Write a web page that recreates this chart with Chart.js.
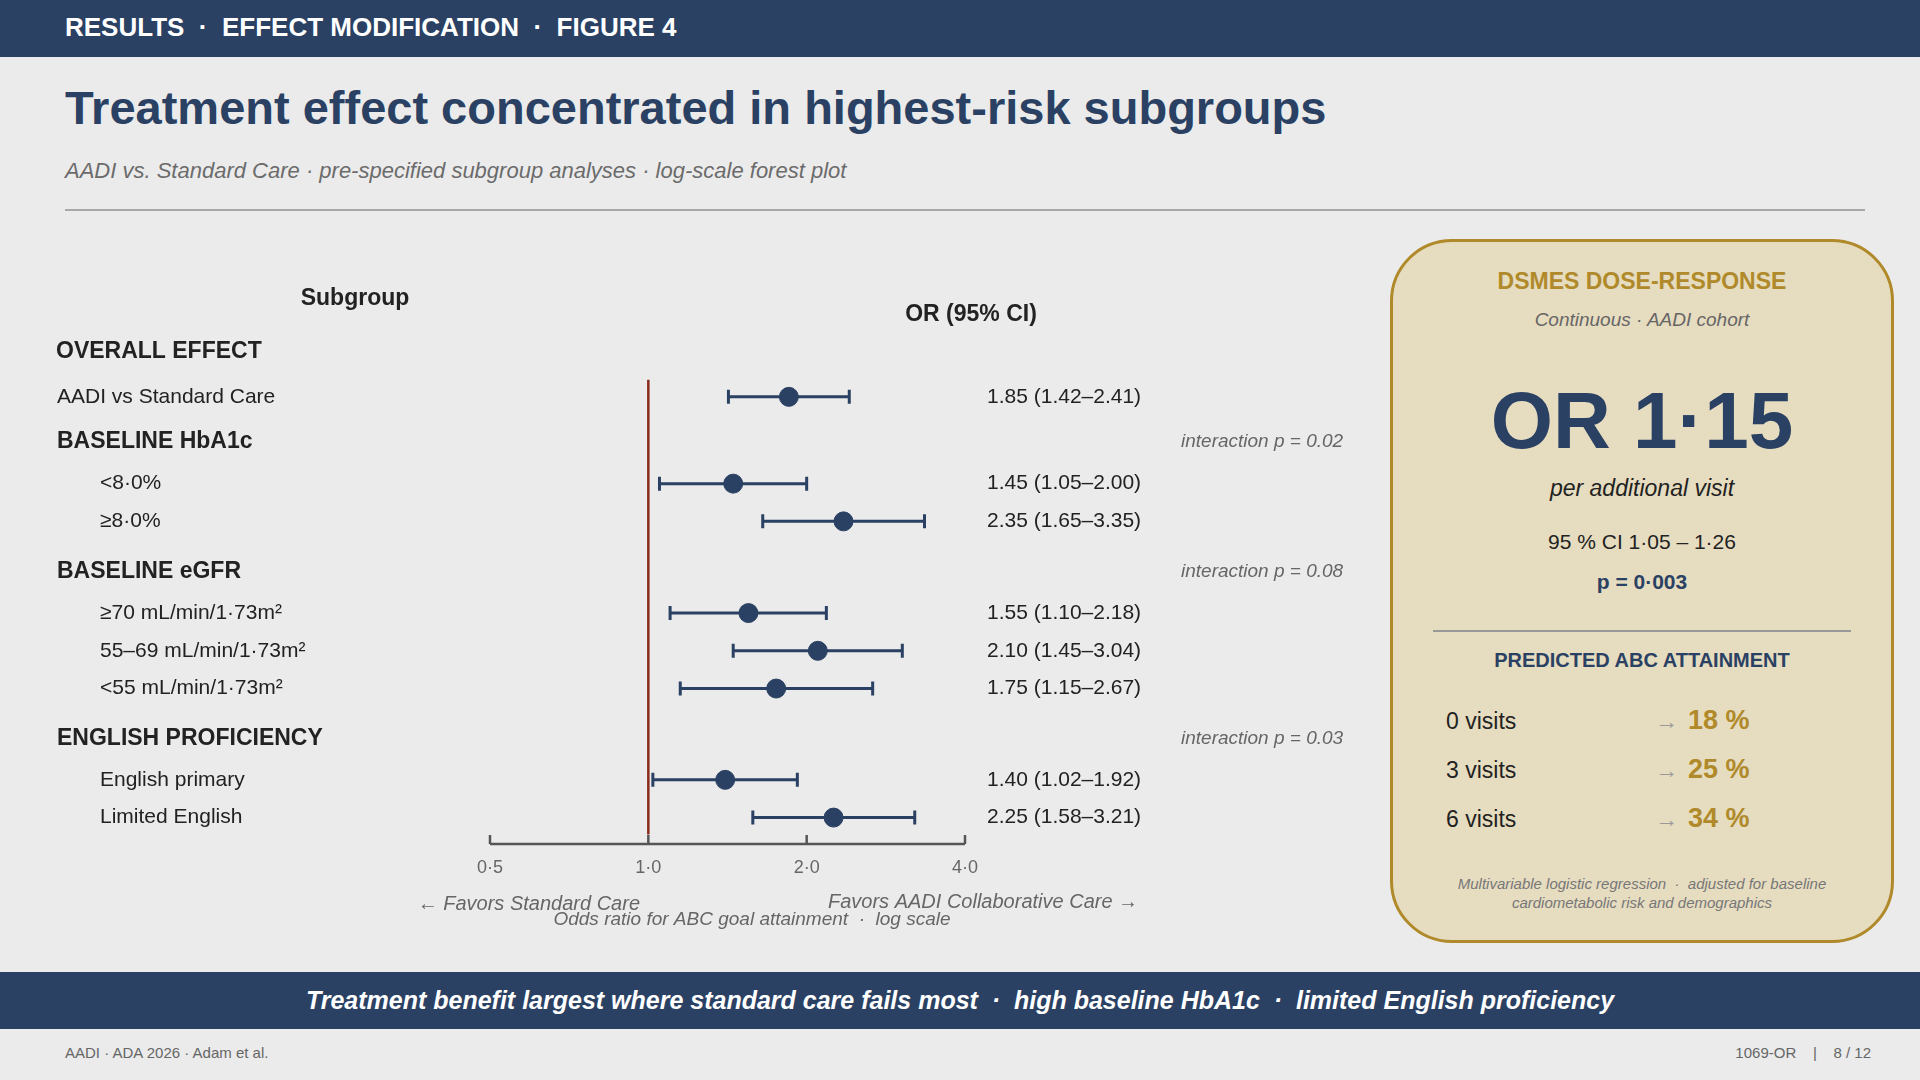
<!DOCTYPE html>
<html>
<head>
<meta charset="utf-8">
<script src="https://cdn.jsdelivr.net/npm/chart.js@4"></script>
<style>
  body { margin:0; width:1920px; height:1080px; background:#ebebeb; font-family:"Liberation Sans", Arial, sans-serif; position:relative; overflow:hidden; }
  .abs { position:absolute; }
  #topbar { left:0; top:0; width:1920px; height:57px; background:#2a4163; color:#fff; font-weight:bold; font-size:26px; line-height:54px; padding-left:65px; box-sizing:border-box; }
  #title { left:65px; top:80px; font-size:47px; font-weight:bold; color:#2a4163; }
  #sub { left:65px; top:158px; font-size:22px; font-style:italic; color:#6b6b6b; }
  #rule { left:65px; top:209px; width:1800px; height:1.5px; background:#a8a8a8; }
  #plot { left:0; top:230px; }
  #panel { left:1390px; top:239px; width:504px; height:704px; box-sizing:border-box; border:3px solid #b08a2a; border-radius:62px; background:#e6dcc0; text-align:center; }
  #panel .c { position:absolute; left:0; width:100%; }
  #banner { left:0; top:972px; width:1920px; height:57px; background:#2a4163; color:#fff; font-weight:bold; font-style:italic; font-size:25px; line-height:57px; text-align:center; }
  #footl { left:65px; top:1044px; font-size:15px; color:#666; }
  #footr { right:49px; top:1044px; font-size:15px; color:#666; white-space:pre; }
  .vrow { position:absolute; left:53px; width:400px; height:40px; font-size:23px; color:#222; text-align:left; }
</style>
</head>
<body>
<div id="topbar" class="abs">RESULTS &nbsp;·&nbsp; EFFECT MODIFICATION &nbsp;·&nbsp; FIGURE 4</div>
<div id="title" class="abs">Treatment effect concentrated in highest-risk subgroups</div>
<div id="sub" class="abs">AADI vs. Standard Care · pre-specified subgroup analyses · log-scale forest plot</div>
<div id="rule" class="abs"></div>
<canvas id="plot" class="abs" width="1380" height="730"></canvas>

<div id="panel" class="abs">
  <div class="c" style="top:26px;font-size:23px;font-weight:bold;color:#b08a2a;">DSMES DOSE-RESPONSE</div>
  <div class="c" style="top:67px;font-size:19px;font-style:italic;color:#666;">Continuous · AADI cohort</div>
  <div class="c" style="top:133px;font-size:80px;font-weight:bold;color:#2a4163;">OR 1·15</div>
  <div class="c" style="top:233px;font-size:23px;font-style:italic;color:#222;">per additional visit</div>
  <div class="c" style="top:288px;font-size:21px;color:#222;">95 % CI 1·05 – 1·26</div>
  <div class="c" style="top:328px;font-size:21px;font-weight:bold;color:#2a4163;">p = 0·003</div>
  <div class="abs" style="left:40px;top:388px;width:418px;height:1.5px;background:#999;"></div>
  <div class="c" style="top:407px;font-size:20px;font-weight:bold;color:#2a4163;">PREDICTED ABC ATTAINMENT</div>
  <div id="visits"></div>
  <div class="c" style="top:632px;font-size:15px;font-style:italic;color:#777;line-height:19px;">Multivariable logistic regression &nbsp;·&nbsp; adjusted for baseline<br>cardiometabolic risk and demographics</div>
</div>

<div id="banner" class="abs">Treatment benefit largest where standard care fails most &nbsp;·&nbsp; high baseline HbA1c &nbsp;·&nbsp; limited English proficiency</div>
<div id="footl" class="abs">AADI · ADA 2026 · Adam et al.</div>
<div id="footr" class="abs">1069-OR    |    8 / 12</div>

<script>
// forest plot data
const rowLabels = ['AADI vs Standard Care', '<8·0%', '≥8·0%', '≥70 mL/min/1·73m²', '55–69 mL/min/1·73m²', '<55 mL/min/1·73m²', 'English primary', 'Limited English'];
const rowSlots = [1, 3.3, 4.3, 6.73, 7.73, 8.73, 11.15, 12.15];
const orValues = [1.85, 1.45, 2.35, 1.55, 2.10, 1.75, 1.40, 2.25];
const ciLow = [1.42, 1.05, 1.65, 1.10, 1.45, 1.15, 1.02, 1.58];
const ciHigh = [2.41, 2.00, 3.35, 2.18, 3.04, 2.67, 1.92, 3.21];
const groupNames = ['OVERALL EFFECT', 'BASELINE HbA1c', 'BASELINE eGFR', 'ENGLISH PROFICIENCY'];
const groupSlots = [-0.2, 2.2, 5.64, 10.06];
const groupP = ['', 'interaction p = 0.02', 'interaction p = 0.08', 'interaction p = 0.03'];
const xTicks = [0.5, 1, 2, 4];
const xTickLabels = ['0·5', '1·0', '2·0', '4·0'];

// dose-response panel data
const visitLabels = ['0 visits', '3 visits', '6 visits'];
const visitPct = [18, 25, 34];

const navy = '#2a4163';
const fmt = v => v.toFixed(2);

const vBox = document.getElementById('visits');
visitLabels.forEach((l, i) => {
  const d = document.createElement('div');
  d.className = 'vrow';
  d.style.top = (466 + i * 49) + 'px';
  d.innerHTML = `<span>${l}</span><span style="position:absolute;left:209px;color:#999;">→</span><span style="position:absolute;left:242px;top:-3px;font-size:27px;font-weight:bold;color:#b08a2a;">${visitPct[i]} %</span>`;
  vBox.appendChild(d);
});

const forestDraw = {
  id: 'forestDraw',
  beforeDatasetsDraw(chart) {
    const ctx = chart.ctx, x = chart.scales.x, y = chart.scales.y;
    ctx.save();
    // reference line at OR = 1
    ctx.strokeStyle = '#8b2a1a'; ctx.lineWidth = 2.5;
    ctx.beginPath(); ctx.moveTo(x.getPixelForValue(1), y.getPixelForValue(0.55)); ctx.lineTo(x.getPixelForValue(1), y.getPixelForValue(12.6)); ctx.stroke();
    // CI bars
    ctx.strokeStyle = navy; ctx.lineWidth = 3;
    rowSlots.forEach((s, i) => {
      const py = y.getPixelForValue(s), a = x.getPixelForValue(ciLow[i]), b = x.getPixelForValue(ciHigh[i]);
      ctx.beginPath();
      ctx.moveTo(a, py); ctx.lineTo(b, py);
      ctx.moveTo(a, py - 7); ctx.lineTo(a, py + 7);
      ctx.moveTo(b, py - 7); ctx.lineTo(b, py + 7);
      ctx.stroke();
    });
    // axis with upward ticks
    const ay = y.getPixelForValue(12.85);
    ctx.strokeStyle = '#555'; ctx.lineWidth = 2.5;
    ctx.beginPath(); ctx.moveTo(x.getPixelForValue(0.5), ay); ctx.lineTo(x.getPixelForValue(4), ay);
    xTicks.forEach(t => { ctx.moveTo(x.getPixelForValue(t), ay); ctx.lineTo(x.getPixelForValue(t), ay - 9); });
    ctx.stroke();
    ctx.textBaseline = 'middle';
    ctx.fillStyle = '#666'; ctx.font = '18px "Liberation Sans"'; ctx.textAlign = 'center';
    xTicks.forEach((t, i) => ctx.fillText(xTickLabels[i], x.getPixelForValue(t), ay + 24));
    // column headers
    ctx.fillStyle = '#222'; ctx.font = 'bold 23px "Liberation Sans"';
    ctx.fillText('Subgroup', 355, y.getPixelForValue(-1.6));
    ctx.fillText('OR (95% CI)', 971, y.getPixelForValue(-1.18));
    // group headers and interaction p
    groupNames.forEach((g, i) => {
      const py = y.getPixelForValue(groupSlots[i]);
      ctx.textAlign = 'left'; ctx.fillStyle = '#222'; ctx.font = 'bold 23px "Liberation Sans"';
      ctx.fillText(g, i === 0 ? 56 : 57, py);
      if (groupP[i]) { ctx.fillStyle = '#666'; ctx.font = 'italic 19px "Liberation Sans"'; ctx.fillText(groupP[i], 1181, py); }
    });
    // row labels and OR text
    ctx.font = '21px "Liberation Sans"'; ctx.fillStyle = '#222'; ctx.textAlign = 'left';
    rowLabels.forEach((l, i) => {
      const py = y.getPixelForValue(rowSlots[i]);
      ctx.fillText(l, i === 0 ? 57 : 100, py);
      ctx.fillText(`${fmt(orValues[i])} (${fmt(ciLow[i])}–${fmt(ciHigh[i])})`, 987, py);
    });
    // axis captions
    ctx.fillStyle = '#666'; ctx.font = 'italic 20px "Liberation Sans"';
    ctx.textAlign = 'right'; ctx.fillText('← Favors Standard Care', 640, ay + 60);
    ctx.textAlign = 'left'; ctx.fillText('Favors AADI Collaborative Care →', 828, ay + 58);
    ctx.textAlign = 'center'; ctx.font = 'italic 19px "Liberation Sans"';
    ctx.fillText('Odds ratio for ABC goal attainment  ·  log scale', 752, ay + 76);
    ctx.restore();
  }
};

new Chart(document.getElementById('plot'), {
  type: 'scatter',
  data: {
    datasets: [{
      data: orValues.map((v, i) => ({ x: v, y: rowSlots[i] })),
      backgroundColor: navy, borderColor: navy,
      pointRadius: 9.5, pointHoverRadius: 9.5
    }]
  },
  options: {
    responsive: false, animation: false,
    layout: { padding: { left: 490, right: 415, top: 31, bottom: 116 } },
    plugins: { legend: { display: false }, tooltip: { enabled: false } },
    scales: {
      x: { type: 'logarithmic', min: 0.5, max: 4, display: false },
      y: { type: 'linear', min: -2.6, max: 12.85, reverse: true, display: false }
    }
  },
  plugins: [forestDraw]
});
</script>
</body>
</html>
